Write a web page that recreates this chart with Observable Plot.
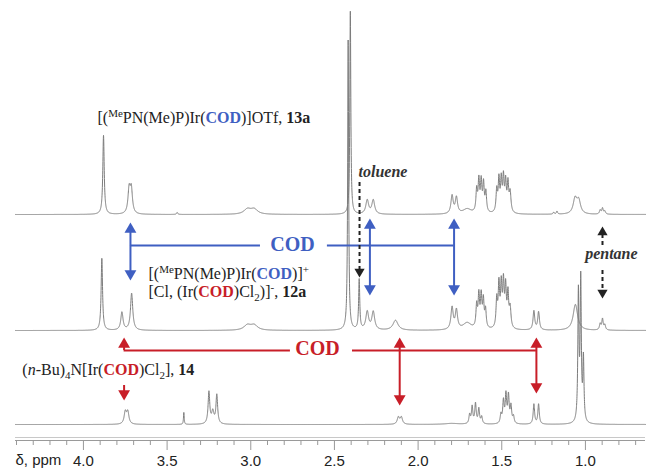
<!DOCTYPE html>
<html><head><meta charset="utf-8">
<script src="https://cdn.jsdelivr.net/npm/d3@7"></script>
<script src="https://cdn.jsdelivr.net/npm/@observablehq/plot@0.6"></script>
<style>body{margin:0;background:#fff} #chart svg{display:block;background:#fff}</style>
</head><body><div id="chart"></div>
<script>
// ---- data: peaks: [ppm, intensity, half-width(ppm)] ----
const peaks13a = [
  [3.880, 79, 0.005],
  [3.727, 24, 0.008], [3.714, 24, 0.008],
  [3.440, 2, 0.004],
  [3.020, 5, 0.025], [2.980, 5, 0.025],
  [2.405, 203, 0.0035],
  [2.304, 14, 0.010], [2.268, 14, 0.010],
  [1.797, 18, 0.008], [1.771, 16, 0.008],
  [1.707, 5, 0.030],
  [1.650, 22, 0.005], [1.637, 31, 0.005], [1.623, 30, 0.005], [1.609, 28, 0.005], [1.595, 20, 0.005],
  [1.530, 22, 0.005], [1.517, 32, 0.005], [1.503, 31, 0.005], [1.490, 33, 0.005], [1.477, 29, 0.005], [1.463, 28, 0.005], [1.450, 20, 0.006],
  [1.190, 2, 0.004], [1.170, 3, 0.004],
  [1.062, 15, 0.013], [1.040, 13, 0.013],
  [0.912, 4, 0.005], [0.898, 6, 0.005], [0.884, 3, 0.005]
];
const peaks12a = [
  [3.890, 72, 0.005],
  [3.770, 18, 0.008],
  [3.712, 37, 0.008],
  [3.020, 5, 0.025], [2.980, 5, 0.025],
  [2.418, 290, 0.0035],
  [2.352, 50, 0.004],
  [2.304, 18, 0.010], [2.268, 18, 0.010],
  [2.135, 10, 0.018],
  [1.797, 22, 0.008], [1.771, 19, 0.008],
  [1.707, 7, 0.030],
  [1.650, 22, 0.005], [1.637, 32, 0.005], [1.623, 31, 0.005], [1.610, 27, 0.005], [1.597, 18, 0.005],
  [1.530, 28, 0.005], [1.517, 42, 0.005], [1.503, 41, 0.005], [1.490, 43, 0.005], [1.477, 39, 0.005], [1.463, 33, 0.005], [1.450, 20, 0.006],
  [1.308, 19, 0.006], [1.280, 18, 0.006],
  [1.060, 26, 0.016],
  [0.912, 6, 0.005], [0.898, 11, 0.005], [0.884, 5, 0.005]
];
const peaks14 = [
  [3.750, 12, 0.008], [3.735, 12, 0.008],
  [3.400, 12, 0.0025],
  [3.250, 32, 0.006], [3.227, 12, 0.008], [3.203, 29, 0.006],
  [2.118, 7, 0.008], [2.100, 7, 0.008],
  [1.800, 1, 0.050],
  [1.692, 9, 0.005], [1.677, 17, 0.005], [1.657, 20, 0.005], [1.637, 15, 0.005], [1.620, 7, 0.005],
  [1.505, 9, 0.005], [1.490, 22, 0.005], [1.475, 28, 0.005], [1.460, 27, 0.005], [1.445, 17, 0.005], [1.430, 7, 0.005],
  [1.308, 20, 0.005], [1.280, 20, 0.005],
  [1.042, 128, 0.004], [1.028, 140, 0.004], [1.012, 62, 0.004]
];
const majorTicks = [4.0, 3.5, 3.0, 2.5, 2.0, 1.5, 1.0];
const minorTicks = [4.4,4.3,4.2,4.1,3.9,3.8,3.7,3.6,3.4,3.3,3.2,3.1,2.9,2.8,2.7,2.6,2.4,2.3,2.2,2.1,1.9,1.8,1.7,1.6,1.4,1.3,1.2,1.1,0.9,0.8,0.7];

// annotations (ppm / intensity units)
const blueArrows = [{ppm: 3.719, top: 218, bottom: 160}, {ppm: 2.288, top: 222, bottom: 145}, {ppm: 1.785, top: 222, bottom: 145}];
const blueBar = [[3.719, 2.942], [2.542, 1.785]];
const redArrows = [{ppm: 2.11, top: 103, bottom: 35}, {ppm: 1.293, top: 103, bottom: 47}];
const redUp = [{ppm: 3.757, tip: 103, tail: 90}];
const redDown = [{ppm: 3.757, tail: 55, tip: 40}];
const redBar = [[3.757, 2.763], [2.392, 1.293]];
const codLabels = [{ppm: 2.751, y: 196, text: "COD", color: "blue"}, {ppm: 2.601, y: 92, text: "COD", color: "red"}];
const tolueneLabel = [{ppm: 2.356, y: 269, text: "toluene"}];
const pentaneLabel = [{ppm: 0.845, y: 187, text: "pentane"}];
const tolueneArrow = {ppm: 2.350, tail: 258, tip: 163};
const pentaneArrow = {ppm: 0.898, top: 214, bottom: 142, gapTop: 194, gapBottom: 170};
const compoundLabels = [
  {ppm: 3.916, y: 323, parts: [["[(",""],["Me","sup"],["PN(Me)P)Ir(",""],["COD","blue"],[")]OTf, ",""],["13a","bold"]]},
  {ppm: 3.611, y: 167, parts: [["[(",""],["Me","sup"],["PN(Me)P)Ir(",""],["COD","blue"],[")]",""],["+","sup"]]},
  {ppm: 3.611, y: 149, parts: [["[Cl, (Ir(",""],["COD","red"],[")Cl",""],["2","sub"],[")]",""],["-","sup"],[", ",""],["12a","bold"]]},
  {ppm: 4.365, y: 71, parts: [["(",""],["n","italic"],["-Bu)",""],["4","sub"],["N[Ir(",""],["COD","red"],[")Cl",""],["2","sub"],["], ",""],["14","bold"]]}
];

// ---- layout ----
const offsets = {"13a": 226, "12a": 110, "14": 16};
const BLUE = "#3f5fc2", RED = "#c81e28", GRAY = "#7c7c7c", INK = "#222";
const serif = "Liberation Serif, Times New Roman, serif";
const sans = "Liberation Sans, Arial, sans-serif";

const grid = d3.range(4.406, 0.64, -0.0005);
function trace(peaks, name) {
  const off = offsets[name];
  return grid.map(p => ({ppm: p, y: off + d3.sum(peaks, ([c, h, w]) => h / (1 + ((p - c) / w) ** 2)), name}));
}
const spectra = [...trace(peaks13a, "13a"), ...trace(peaks12a, "12a"), ...trace(peaks14, "14")];

const HEAD = 10; // arrowhead length in intensity units (1 unit = 1px)
const upHeads = [], downHeads = [], stems = [];
for (const a of blueArrows) {
  upHeads.push({ppm: a.ppm, y: a.top, c: BLUE});
  downHeads.push({ppm: a.ppm, y: a.bottom, c: BLUE});
  stems.push({ppm: a.ppm, y1: a.bottom + HEAD - 2, y2: a.top - HEAD + 2, c: BLUE});
}
for (const a of redArrows) {
  upHeads.push({ppm: a.ppm, y: a.top, c: RED});
  downHeads.push({ppm: a.ppm, y: a.bottom, c: RED});
  stems.push({ppm: a.ppm, y1: a.bottom + HEAD - 2, y2: a.top - HEAD + 2, c: RED});
}
for (const a of redUp) { upHeads.push({ppm: a.ppm, y: a.tip, c: RED}); stems.push({ppm: a.ppm, y1: a.tail, y2: a.tip - HEAD + 2, c: RED}); }
for (const a of redDown) { downHeads.push({ppm: a.ppm, y: a.tip, c: RED}); stems.push({ppm: a.ppm, y1: a.tail, y2: a.tip + HEAD - 2, c: RED}); }
const bars = [...blueBar.map(([a, b]) => ({x1: a, x2: b, y: 195, c: BLUE})), ...redBar.map(([a, b]) => ({x1: a, x2: b, y: 90, c: RED}))];
const dashStems = [
  {ppm: tolueneArrow.ppm, y1: tolueneArrow.tail, y2: tolueneArrow.tip + HEAD - 2},
  {ppm: pentaneArrow.ppm, y1: pentaneArrow.top - HEAD + 2, y2: pentaneArrow.gapTop},
  {ppm: pentaneArrow.ppm, y1: pentaneArrow.gapBottom, y2: pentaneArrow.bottom + HEAD - 2}
];
const blackDown = [{ppm: tolueneArrow.ppm, y: tolueneArrow.tip}, {ppm: pentaneArrow.ppm, y: pentaneArrow.bottom}];
const blackUp = [{ppm: pentaneArrow.ppm, y: pentaneArrow.top}];

const plainText = parts => parts.map(p => p[0]).join("");
const triR = 4.4, triDy = 6.8;

const chart = Plot.plot({
  width: 647, height: 476,
  marginLeft: 15, marginRight: 2, marginTop: 0, marginBottom: 36,
  x: {domain: [4.406, 0.641]},
  y: {domain: [0, 440], axis: null},
  style: {background: "#fff"},
  marks: [
    Plot.ruleY([0], {stroke: "#9a9a9a", strokeWidth: 1}),
    Plot.ruleY([3], {stroke: "#c8c8c8", strokeWidth: 1}),
    Plot.axisX({ticks: minorTicks, tickSize: 5, tickFormat: () => "", stroke: "#999", label: null}),
    Plot.axisX({ticks: majorTicks, tickSize: 10, tickPadding: 5, tickFormat: d3.format(".1f"), stroke: "#999", fill: INK, fontSize: 15, fontFamily: sans, label: null}),
    Plot.text(["δ, ppm"], {frameAnchor: "bottom-left", dy: 24, textAnchor: "start", fontSize: 15, fontFamily: sans, fill: INK}),
    Plot.line(spectra, {x: "ppm", y: "y", z: "name", stroke: GRAY, strokeWidth: 1}),
    // COD bars & arrows
    Plot.ruleY(bars, {x1: "x1", x2: "x2", y: "y", stroke: "c", strokeWidth: 2}),
    Plot.ruleX(stems, {x: "ppm", y1: "y1", y2: "y2", stroke: "c", strokeWidth: 2}),
    Plot.dot(upHeads, {x: "ppm", y: "y", symbol: "triangle", r: triR, fill: "c", dy: triDy}),
    Plot.dot(downHeads, {x: "ppm", y: "y", symbol: "triangle", r: triR, fill: "c", rotate: 180, dy: -triDy}),
    Plot.text(codLabels, {x: "ppm", y: "y", text: "text", fill: d => d.color === "blue" ? BLUE : RED, fontWeight: "bold", fontSize: 20, fontFamily: serif, stroke: "white", strokeWidth: 8}),
    // solvent arrows
    Plot.ruleX(dashStems, {x: "ppm", y1: "y1", y2: "y2", stroke: INK, strokeWidth: 2, strokeDasharray: "4,3"}),
    Plot.dot(blackDown, {x: "ppm", y: "y", symbol: "triangle", r: 3.8, fill: INK, rotate: 180, dy: -5.9}),
    Plot.dot(blackUp, {x: "ppm", y: "y", symbol: "triangle", r: 3.8, fill: INK, dy: 5.9}),
    Plot.text(tolueneLabel, {x: "ppm", y: "y", text: "text", textAnchor: "start", fontStyle: "italic", fontWeight: "bold", fontSize: 16, fontFamily: serif, fill: "#333"}),
    Plot.text(pentaneLabel, {x: "ppm", y: "y", text: "text", textAnchor: "middle", fontStyle: "italic", fontWeight: "bold", fontSize: 16, fontFamily: serif, fill: "#333"}),
    // compound labels (rich text applied below)
    Plot.text(compoundLabels, {x: "ppm", y: "y", text: d => plainText(d.parts), textAnchor: "start", fontSize: 16, fontFamily: serif, fill: INK})
  ]
});

// rich text: superscripts, subscripts, coloured bold COD
const texts = Array.from(chart.querySelectorAll("text"));
for (const lab of compoundLabels) {
  const s = plainText(lab.parts);
  const el = texts.find(t => t.textContent === s && !t.dataset.done);
  if (!el) continue;
  el.dataset.done = "1";
  const t = d3.select(el);
  t.text(null);
  let shift = 0;
  for (const [str, style] of lab.parts) {
    const ts = t.append("tspan").text(str);
    let target = 0;
    if (style === "sup") { target = -6; ts.attr("font-size", 11); }
    if (style === "sub") { target = 4; ts.attr("font-size", 11); }
    if (target !== shift) { ts.attr("dy", target - shift); shift = target; }
    if (style === "blue") ts.attr("fill", BLUE).attr("font-weight", "bold");
    if (style === "red") ts.attr("fill", RED).attr("font-weight", "bold");
    if (style === "bold") ts.attr("font-weight", "bold");
    if (style === "italic") ts.attr("font-style", "italic");
  }
}
document.getElementById("chart").append(chart);
</script>
</body></html>
